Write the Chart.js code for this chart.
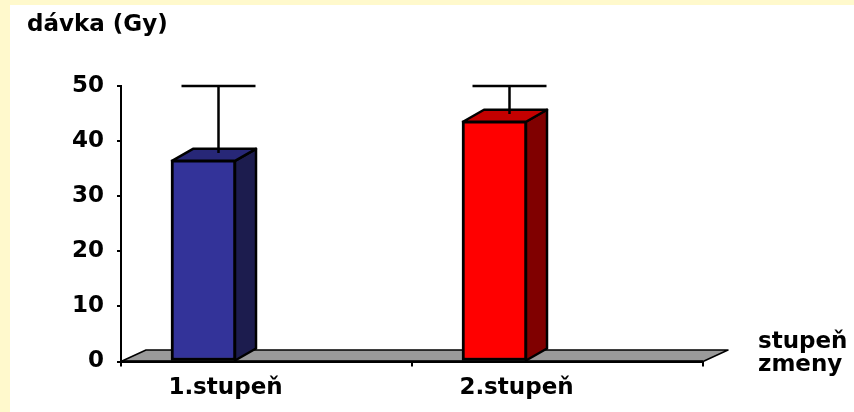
<!DOCTYPE html>
<html>
<head>
<meta charset="utf-8">
<script src="https://cdn.jsdelivr.net/npm/chart.js@4.4.1/dist/chart.umd.min.js"></script>
<style>
  html, body { margin: 0; padding: 0; background: #FFF9CC; }
  #wrap { width: 854px; height: 412px; }
</style>
</head>
<body>
<div id="wrap"><canvas id="c" width="854" height="412"></canvas></div>
<script>
// Data
const categories = ['1.stupeň', '2.stupeň'];
const doseValues = [36.6, 43.7];
const doseErrorPlus = [13.4, 6.3];
const doseTicks = [0, 10, 20, 30, 40, 50];
const valueAxisTitle = 'dávka (Gy)';
const categoryAxisTitle = ['stupeň', 'zmeny'];

// Styles
const frontColors = ['#333399', '#ff0000'];
const sideColors = ['#1c1c4e', '#800000'];
const topColors = ['#272777', '#c40000'];
const FLOOR_COLOR = '#9a9a9a';
const FONT = '"DejaVu Sans", sans-serif';
const DEPTH = { dx: 21, dy: -12 };        // column side/top projection
const FLOOR_DEPTH = { dx: 25, dy: -11.5 }; // floor projection
const COLUMN_SHIFT = -63;                  // columns sit left of the category centres
const ERR_SHIFT = 15;                      // error bars sit at the column's mid depth
const ERR_CAP = 74;

Chart.defaults.font.family = FONT;

const pseudo3d = {
  id: 'pseudo3d',
  beforeDraw(chart) {
    const ctx = chart.ctx;
    ctx.save();
    ctx.fillStyle = '#FFF9CC';
    ctx.fillRect(0, 0, chart.width, chart.height);
    ctx.fillStyle = '#ffffff';
    ctx.fillRect(10, 5, chart.width - 10, chart.height - 5);
    ctx.restore();
  },
  afterDatasetsUpdate(chart) {
    chart.getDatasetMeta(0).data.forEach(bar => { bar.x += COLUMN_SHIFT; });
  },
  beforeDatasetsDraw(chart) {
    const { ctx, chartArea } = chart;
    const y0 = chart.scales.y.getPixelForValue(0);
    const l = chartArea.left, r = chartArea.right;
    ctx.save();
    ctx.beginPath();
    ctx.moveTo(l, y0);
    ctx.lineTo(l + FLOOR_DEPTH.dx, y0 + FLOOR_DEPTH.dy);
    ctx.lineTo(r + FLOOR_DEPTH.dx, y0 + FLOOR_DEPTH.dy);
    ctx.lineTo(r, y0);
    ctx.closePath();
    ctx.fillStyle = FLOOR_COLOR;
    ctx.fill();
    ctx.strokeStyle = '#000';
    ctx.lineWidth = 1.5;
    ctx.lineJoin = 'round';
    ctx.stroke();
    ctx.beginPath();
    ctx.moveTo(l, y0);
    ctx.lineTo(r, y0);
    ctx.lineWidth = 2.5;
    ctx.stroke();
    ctx.restore();
  },
  afterDatasetsDraw(chart) {
    const ctx = chart.ctx;
    const yScale = chart.scales.y;
    ctx.save();
    ctx.strokeStyle = '#000';
    ctx.lineJoin = 'round';
    chart.getDatasetMeta(0).data.forEach((bar, i) => {
      const half = bar.width / 2;
      const left = bar.x - half + 1, right = bar.x + half - 1;
      const top = bar.y + 1, bottom = bar.base;
      ctx.lineWidth = 2.5;
      // side face
      ctx.beginPath();
      ctx.moveTo(right, top);
      ctx.lineTo(right + DEPTH.dx, top + DEPTH.dy);
      ctx.lineTo(right + DEPTH.dx, bottom + DEPTH.dy);
      ctx.lineTo(right, bottom);
      ctx.closePath();
      ctx.fillStyle = sideColors[i];
      ctx.fill();
      ctx.stroke();
      // top face
      ctx.beginPath();
      ctx.moveTo(left, top);
      ctx.lineTo(left + DEPTH.dx, top + DEPTH.dy);
      ctx.lineTo(right + DEPTH.dx, top + DEPTH.dy);
      ctx.lineTo(right, top);
      ctx.closePath();
      ctx.fillStyle = topColors[i];
      ctx.fill();
      ctx.stroke();
      // error bar
      const ex = bar.x + ERR_SHIFT;
      const eTop = yScale.getPixelForValue(doseValues[i] + doseErrorPlus[i]);
      ctx.beginPath();
      ctx.moveTo(ex, top + DEPTH.dy * 0.65);
      ctx.lineTo(ex, eTop);
      ctx.moveTo(ex - ERR_CAP / 2, eTop);
      ctx.lineTo(ex + ERR_CAP / 2, eTop);
      ctx.stroke();
    });
    ctx.restore();
  },
  afterDraw(chart) {
    const ctx = chart.ctx;
    ctx.save();
    ctx.fillStyle = '#000';
    ctx.font = 'bold 23px ' + FONT;
    ctx.textBaseline = 'alphabetic';
    ctx.textAlign = 'left';
    ctx.fillText(valueAxisTitle, 27, 31);
    ctx.fillText(categoryAxisTitle[0], 758, 348);
    ctx.fillText(categoryAxisTitle[1], 758, 371);
    ctx.restore();
  }
};

new Chart(document.getElementById('c'), {
  type: 'bar',
  data: {
    labels: categories,
    datasets: [{
      data: doseValues,
      backgroundColor: frontColors,
      borderColor: '#000',
      borderWidth: 3,
      borderSkipped: false,
      barThickness: 65
    }]
  },
  options: {
    responsive: false,
    animation: false,
    events: [],
    layout: { padding: { top: 86, right: 151, bottom: 0, left: 0 } },
    plugins: { legend: { display: false }, tooltip: { enabled: false }, title: { display: false } },
    scales: {
      x: {
        type: 'category',
        offset: true,
        grid: { drawOnChartArea: false, offset: true, tickLength: 5, color: '#000', lineWidth: 2 },
        border: { color: '#000', width: 2 },
        ticks: { color: '#000', font: { size: 23, weight: 'bold' }, labelOffset: -41, padding: 8 },
        afterFit(scale) { scale.height = 50.5; }
      },
      y: {
        min: 0,
        max: 50,
        afterBuildTicks(scale) { scale.ticks = doseTicks.map(v => ({ value: v })); },
        grid: { drawOnChartArea: false, tickLength: 4, color: '#000', lineWidth: 2 },
        border: { color: '#000', width: 2 },
        ticks: { color: '#000', font: { size: 23, weight: 'bold' }, padding: 13 },
        afterFit(scale) { scale.width = 121; }
      }
    }
  },
  plugins: [pseudo3d]
});
</script>
</body>
</html>
